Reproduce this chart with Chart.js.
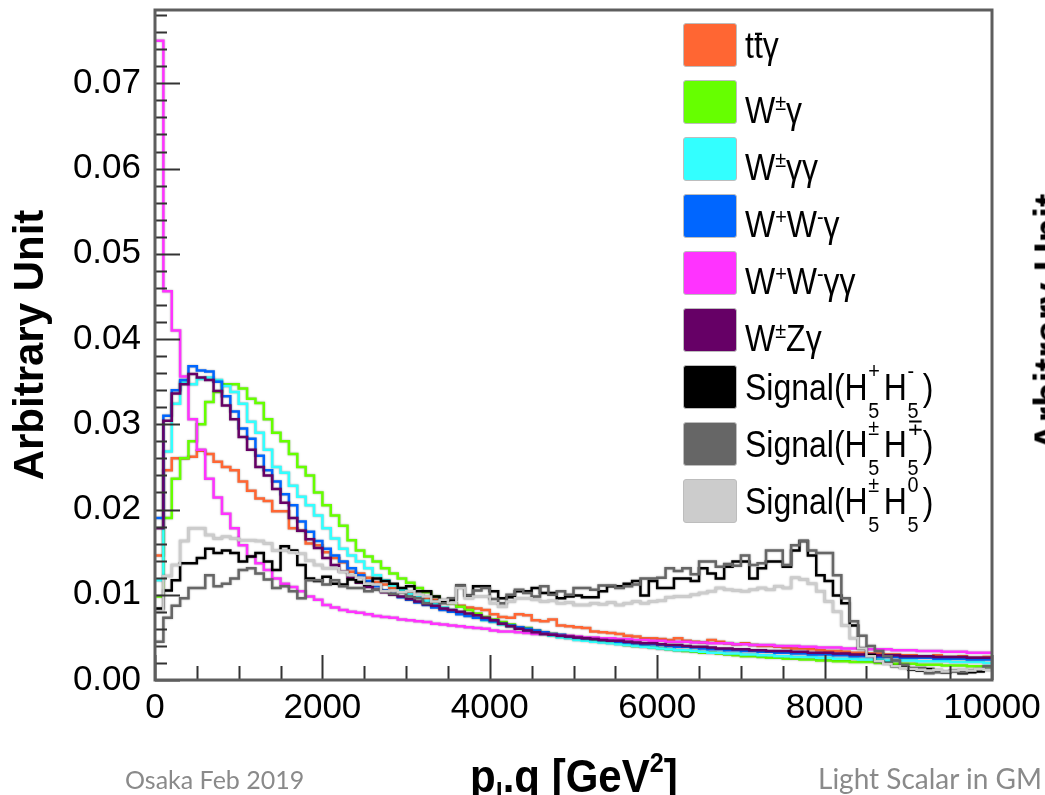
<!DOCTYPE html>
<html>
<head>
<meta charset="utf-8">
<script src="https://cdn.jsdelivr.net/npm/chart.js@4.4.1/dist/chart.umd.min.js"></script>
<style>
  html, body { margin: 0; padding: 0; background: #fff; overflow: hidden; }
  #wrap { position: relative; width: 1045px; height: 795px; overflow: hidden; }
  #plot { position: absolute; left: 0; top: 0; }
  .sans { font-family: "Liberation Sans", Arial, sans-serif; color: #000; }
  #legend { position: absolute; left: 683px; top: 23px; font-size: 32px; }
  .row { position: absolute; left: 0; width: 320px; height: 44px; white-space: nowrap; }
  .sw { position: absolute; left: 0; top: 0; width: 54px; height: 44px; box-sizing: border-box;
        border: 1px solid #bdbdbd; border-radius: 3px; }
  .lt { position: absolute; left: 62px; top: 2px; line-height: 44px;
        transform: scaleY(1.15); transform-origin: 0 33px; }
  .ov { position: relative; }
  .ov::after { content: ''; position: absolute; left: 0.04em; right: 0.02em; top: 0.22em; height: 2px; background: #000; }
  .up { font-size: 0.62em; vertical-align: 0.55em; }
  .ss { position: relative; display: inline-block; width: 0.5em; height: 1em; }
  .ss .u { position: absolute; left: 0.03em; top: -0.15em; font-size: 0.62em; line-height: 1; }
  .ss .d { position: absolute; left: 0.03em; top: 1.6em; font-size: 0.62em; line-height: 1; }
  #xtitle { position: absolute; left: 470px; top: 743px; font-size: 42px; font-weight: bold;
            line-height: 40px; white-space: nowrap; transform: scaleY(1.08); transform-origin: 0 34px; }
  #xtitle sub { font-size: 0.6em; vertical-align: -0.35em; }
  #xtitle sup { font-size: 0.6em; vertical-align: 0.75em; }
  .foot { position: absolute; top: 764px; font-family: Lato, "Open Sans", sans-serif; font-size: 25px;
          color: #8a8a8a; white-space: nowrap; }
  #side { position: absolute; left: 919px; top: 300px; width: 260px; text-align: center;
          font-size: 40px; font-weight: bold; transform: rotate(-90deg); white-space: nowrap; }
</style>
</head>
<body>
<div id="wrap">
  <canvas id="plot" width="1045" height="795"></canvas>
  <div id="legend" class="sans"></div>
  <div id="xtitle" class="sans">p<sub>l</sub>.q [GeV<sup>2</sup>]</div>
  <div class="foot" style="left:125px">Osaka Feb 2019</div>
  <div class="foot" style="left:818px;font-size:28px;top:761px">Light Scalar in GM</div>
  <div id="side" class="sans">Arbitrary Unit</div>
</div>
<script>
// ── DATA: 100 bins of width 100 GeV^2 over 0..10000 ───────────
const BIN_W = 100;
const X_MIN = 0, X_MAX = 10000;
const Y_MIN = 0, Y_MAX = 0.0786;
const X_TICKS_STEP = 2000;
const Y_TICKS_STEP = 0.01;

const SERIES_LABELS = [
  't<span class="ov">t</span>γ',
  'W<span class="up">±</span>γ',
  'W<span class="up">±</span>γγ',
  'W<span class="up">+</span>W<span class="up">-</span>γ',
  'W<span class="up">+</span>W<span class="up">-</span>γγ',
  'W<span class="up">±</span>Zγ',
  'Signal(H<span class="ss"><span class="u">+</span><span class="d">5</span></span>H<span class="ss"><span class="u">-</span><span class="d">5</span></span>)',
  'Signal(H<span class="ss"><span class="u">±</span><span class="d">5</span></span>H<span class="ss"><span class="u">∓</span><span class="d">5</span></span>)',
  'Signal(H<span class="ss"><span class="u">±</span><span class="d">5</span></span>H<span class="ss"><span class="u">0</span><span class="d">5</span></span>)'
];
const SERIES_COLORS = ['#ff6633', '#66ff00', '#33ffff', '#0066ff', '#ff33ff', '#660066', '#000000', '#666666', '#cccccc'];

const ttA = [
  0.0146, 0.0246, 0.0260, 0.0260, 0.0262, 0.0269, 0.0265, 0.0256, 0.0250, 0.0246,
  0.0233, 0.0222, 0.0213, 0.0210, 0.0198, 0.0198, 0.0178, 0.0175, 0.0160, 0.0158,
  0.0150, 0.0143, 0.0138, 0.0127, 0.0125, 0.0120, 0.0115, 0.0112, 0.0108, 0.0105,
  0.0102, 0.0099, 0.0096, 0.0094, 0.0092, 0.0090, 0.0087, 0.0085, 0.0084, 0.0082,
  0.0077, 0.0074, 0.0073, 0.0077, 0.0076, 0.0070, 0.0069, 0.0071, 0.0064, 0.0063,
  0.0062, 0.0061, 0.0057, 0.0056, 0.0055, 0.0054, 0.0052, 0.0051, 0.0049, 0.0049,
  0.0048, 0.0047, 0.0049, 0.0046, 0.0045, 0.0044, 0.0047, 0.0045, 0.0043, 0.0042,
  0.0043, 0.0041, 0.0040, 0.0040, 0.0039, 0.0038, 0.0037, 0.0037, 0.0036, 0.0035,
  0.0034, 0.0034, 0.0033, 0.0032, 0.0032, 0.0031, 0.0031, 0.0030, 0.0030, 0.0029,
  0.0029, 0.0028, 0.0028, 0.0029, 0.0027, 0.0027, 0.0028, 0.0026, 0.0026, 0.0027
];
const wA = [
  0.0098, 0.0190, 0.0236, 0.0260, 0.0280, 0.0300, 0.0326, 0.0338, 0.0347, 0.0347,
  0.0342, 0.0330, 0.0325, 0.0306, 0.0290, 0.0280, 0.0265, 0.0250, 0.0240, 0.0220,
  0.0205, 0.0193, 0.0181, 0.0164, 0.0152, 0.0145, 0.0139, 0.0131, 0.0125, 0.0119,
  0.0114, 0.0108, 0.0103, 0.0098, 0.0093, 0.0090, 0.0086, 0.0082, 0.0078, 0.0074,
  0.0071, 0.0068, 0.0065, 0.0062, 0.0061, 0.0058, 0.0056, 0.0054, 0.0052, 0.0050,
  0.0049, 0.0048, 0.0046, 0.0045, 0.0044, 0.0043, 0.0041, 0.0040, 0.0039, 0.0038,
  0.0037, 0.0036, 0.0035, 0.0034, 0.0033, 0.0032, 0.0032, 0.0031, 0.0030, 0.0029,
  0.0028, 0.0028, 0.0027, 0.0026, 0.0026, 0.0025, 0.0025, 0.0024, 0.0024, 0.0023,
  0.0023, 0.0022, 0.0022, 0.0021, 0.0021, 0.0021, 0.0020, 0.0020, 0.0019, 0.0019,
  0.0019, 0.0018, 0.0018, 0.0018, 0.0017, 0.0017, 0.0017, 0.0016, 0.0016, 0.0016
];
const wAA = [
  0.0117, 0.0268, 0.0324, 0.0350, 0.0347, 0.0353, 0.0355, 0.0352, 0.0345, 0.0338,
  0.0324, 0.0303, 0.0290, 0.0270, 0.0250, 0.0243, 0.0228, 0.0215, 0.0205, 0.0193,
  0.0178, 0.0166, 0.0154, 0.0146, 0.0139, 0.0131, 0.0123, 0.0117, 0.0111, 0.0106,
  0.0101, 0.0097, 0.0093, 0.0089, 0.0085, 0.0082, 0.0079, 0.0076, 0.0073, 0.0070,
  0.0068, 0.0065, 0.0063, 0.0060, 0.0058, 0.0056, 0.0054, 0.0052, 0.0050, 0.0049,
  0.0047, 0.0046, 0.0045, 0.0044, 0.0043, 0.0042, 0.0041, 0.0040, 0.0039, 0.0038,
  0.0037, 0.0036, 0.0035, 0.0035, 0.0034, 0.0033, 0.0032, 0.0032, 0.0031, 0.0031,
  0.0030, 0.0030, 0.0029, 0.0029, 0.0028, 0.0028, 0.0027, 0.0027, 0.0027, 0.0026,
  0.0026, 0.0025, 0.0025, 0.0025, 0.0024, 0.0024, 0.0024, 0.0023, 0.0023, 0.0023,
  0.0023, 0.0022, 0.0022, 0.0022, 0.0022, 0.0021, 0.0021, 0.0021, 0.0021, 0.0020
];
const wwA = [
  0.0190, 0.0310, 0.0340, 0.0352, 0.0368, 0.0363, 0.0362, 0.0350, 0.0333, 0.0315,
  0.0295, 0.0283, 0.0263, 0.0246, 0.0233, 0.0218, 0.0205, 0.0186, 0.0174, 0.0163,
  0.0154, 0.0146, 0.0139, 0.0131, 0.0123, 0.0116, 0.0110, 0.0105, 0.0101, 0.0097,
  0.0094, 0.0091, 0.0088, 0.0085, 0.0082, 0.0080, 0.0077, 0.0075, 0.0073, 0.0071,
  0.0069, 0.0066, 0.0064, 0.0062, 0.0060, 0.0058, 0.0056, 0.0054, 0.0053, 0.0051,
  0.0050, 0.0049, 0.0048, 0.0047, 0.0046, 0.0045, 0.0044, 0.0043, 0.0042, 0.0042,
  0.0041, 0.0040, 0.0039, 0.0039, 0.0038, 0.0037, 0.0036, 0.0036, 0.0035, 0.0035,
  0.0034, 0.0034, 0.0033, 0.0033, 0.0032, 0.0032, 0.0031, 0.0031, 0.0030, 0.0030,
  0.0030, 0.0029, 0.0029, 0.0028, 0.0028, 0.0028, 0.0027, 0.0027, 0.0027, 0.0026,
  0.0026, 0.0026, 0.0026, 0.0025, 0.0025, 0.0025, 0.0025, 0.0024, 0.0024, 0.0024
];
const wwAA = [
  0.0750, 0.0456, 0.0410, 0.0356, 0.0306, 0.0270, 0.0236, 0.0214, 0.0195, 0.0178,
  0.0158, 0.0145, 0.0137, 0.0129, 0.0119, 0.0113, 0.0109, 0.0104, 0.0098, 0.0094,
  0.0088, 0.0085, 0.0082, 0.0080, 0.0079, 0.0077, 0.0075, 0.0074, 0.0073, 0.0071,
  0.0070, 0.0069, 0.0068, 0.0066, 0.0065, 0.0064, 0.0063, 0.0062, 0.0061, 0.0060,
  0.0058, 0.0057, 0.0057, 0.0056, 0.0055, 0.0054, 0.0054, 0.0053, 0.0052, 0.0052,
  0.0051, 0.0050, 0.0050, 0.0049, 0.0049, 0.0048, 0.0048, 0.0047, 0.0047, 0.0046,
  0.0046, 0.0045, 0.0045, 0.0045, 0.0044, 0.0044, 0.0043, 0.0043, 0.0043, 0.0042,
  0.0042, 0.0041, 0.0041, 0.0041, 0.0040, 0.0040, 0.0040, 0.0039, 0.0039, 0.0038,
  0.0038, 0.0038, 0.0037, 0.0037, 0.0037, 0.0036, 0.0036, 0.0036, 0.0035, 0.0035,
  0.0035, 0.0034, 0.0034, 0.0034, 0.0033, 0.0033, 0.0033, 0.0032, 0.0032, 0.0032
];
const wzA = [
  0.0178, 0.0304, 0.0336, 0.0347, 0.0359, 0.0355, 0.0352, 0.0339, 0.0322, 0.0306,
  0.0285, 0.0270, 0.0250, 0.0240, 0.0224, 0.0208, 0.0190, 0.0175, 0.0165, 0.0155,
  0.0143, 0.0135, 0.0127, 0.0120, 0.0114, 0.0109, 0.0106, 0.0103, 0.0100, 0.0098,
  0.0095, 0.0092, 0.0089, 0.0087, 0.0084, 0.0082, 0.0080, 0.0078, 0.0076, 0.0073,
  0.0070, 0.0066, 0.0063, 0.0060, 0.0058, 0.0056, 0.0054, 0.0053, 0.0052, 0.0051,
  0.0050, 0.0049, 0.0048, 0.0047, 0.0046, 0.0046, 0.0045, 0.0044, 0.0043, 0.0043,
  0.0042, 0.0041, 0.0041, 0.0040, 0.0039, 0.0039, 0.0038, 0.0037, 0.0037, 0.0036,
  0.0036, 0.0035, 0.0035, 0.0034, 0.0034, 0.0034, 0.0033, 0.0033, 0.0032, 0.0032,
  0.0032, 0.0031, 0.0031, 0.0030, 0.0030, 0.0030, 0.0029, 0.0029, 0.0029, 0.0028,
  0.0028, 0.0028, 0.0028, 0.0027, 0.0027, 0.0027, 0.0027, 0.0026, 0.0026, 0.0026
];
const sigPM = [
  0.0084, 0.0105, 0.0117, 0.0137, 0.0137, 0.0143, 0.0154, 0.0149, 0.0152, 0.0149,
  0.0139, 0.0145, 0.0149, 0.0139, 0.0129, 0.0157, 0.0152, 0.0135, 0.0119, 0.0116,
  0.0121, 0.0113, 0.0112, 0.0118, 0.0115, 0.0112, 0.0119, 0.0116, 0.0113, 0.0108,
  0.0110, 0.0104, 0.0104, 0.0098, 0.0092, 0.0094, 0.0111, 0.0099, 0.0110, 0.0110,
  0.0104, 0.0096, 0.0097, 0.0104, 0.0104, 0.0108, 0.0102, 0.0102, 0.0096, 0.0098,
  0.0099, 0.0097, 0.0097, 0.0104, 0.0110, 0.0110, 0.0113, 0.0116, 0.0099, 0.0116,
  0.0108, 0.0108, 0.0119, 0.0119, 0.0116, 0.0131, 0.0125, 0.0119, 0.0133, 0.0139,
  0.0139, 0.0119, 0.0131, 0.0139, 0.0139, 0.0133, 0.0152, 0.0163, 0.0146, 0.0123,
  0.0116, 0.0099, 0.0090, 0.0064, 0.0037, 0.0029, 0.0022, 0.0020, 0.0016, 0.0015,
  0.0012, 0.0011, 0.0013, 0.0010, 0.0009, 0.0011, 0.0008, 0.0009, 0.0010, 0.0012
];
const sigPPMM = [
  0.0045, 0.0073, 0.0087, 0.0096, 0.0108, 0.0108, 0.0123, 0.0110, 0.0113, 0.0119,
  0.0129, 0.0131, 0.0125, 0.0118, 0.0108, 0.0110, 0.0104, 0.0096, 0.0117, 0.0117,
  0.0112, 0.0117, 0.0110, 0.0108, 0.0108, 0.0104, 0.0106, 0.0104, 0.0101, 0.0103,
  0.0098, 0.0096, 0.0090, 0.0092, 0.0090, 0.0096, 0.0111, 0.0099, 0.0105, 0.0108,
  0.0095, 0.0090, 0.0100, 0.0106, 0.0102, 0.0098, 0.0110, 0.0100, 0.0104, 0.0100,
  0.0108, 0.0108, 0.0106, 0.0111, 0.0111, 0.0108, 0.0110, 0.0112, 0.0119, 0.0119,
  0.0120, 0.0131, 0.0128, 0.0131, 0.0124, 0.0139, 0.0139, 0.0133, 0.0136, 0.0134,
  0.0146, 0.0135, 0.0137, 0.0152, 0.0152, 0.0135, 0.0158, 0.0163, 0.0152, 0.0149,
  0.0149, 0.0123, 0.0096, 0.0069, 0.0052, 0.0040, 0.0034, 0.0028, 0.0023, 0.0018,
  0.0014, 0.0014, 0.0008, 0.0009, 0.0009, 0.0010, 0.0009, 0.0011, 0.0012, 0.0016
];
const sigP0 = [
  0.0080, 0.0122, 0.0135, 0.0163, 0.0178, 0.0178, 0.0170, 0.0166, 0.0168, 0.0166,
  0.0164, 0.0164, 0.0163, 0.0160, 0.0152, 0.0152, 0.0150, 0.0148, 0.0140, 0.0135,
  0.0131, 0.0131, 0.0127, 0.0123, 0.0120, 0.0113, 0.0112, 0.0104, 0.0105, 0.0103,
  0.0104, 0.0100, 0.0098, 0.0092, 0.0094, 0.0090, 0.0108, 0.0096, 0.0098, 0.0098,
  0.0090, 0.0086, 0.0092, 0.0096, 0.0096, 0.0094, 0.0092, 0.0093, 0.0090, 0.0091,
  0.0088, 0.0088, 0.0090, 0.0089, 0.0091, 0.0088, 0.0090, 0.0092, 0.0090, 0.0092,
  0.0093, 0.0097, 0.0098, 0.0098, 0.0100, 0.0102, 0.0104, 0.0108, 0.0106, 0.0105,
  0.0104, 0.0106, 0.0108, 0.0106, 0.0110, 0.0108, 0.0120, 0.0118, 0.0113, 0.0104,
  0.0092, 0.0080, 0.0064, 0.0049, 0.0037, 0.0028, 0.0022, 0.0019, 0.0016, 0.0014,
  0.0013, 0.0012, 0.0011, 0.0012, 0.0010, 0.0011, 0.0012, 0.0011, 0.0013, 0.0012
];
const SERIES_VALUES = [ttA, wA, wAA, wwA, wwAA, wzA, sigPM, sigPPMM, sigP0];

// ── HELPERS ───────────────────────────────────────────────────
const FONT = '"Liberation Sans", Arial, sans-serif';

// bin contents -> step points at the left bin edges (+ closing edge)
function toSteps(vals) {
  const pts = vals.map((v, i) => ({ x: X_MIN + i * BIN_W, y: v }));
  pts.push({ x: X_MIN + vals.length * BIN_W, y: vals[vals.length - 1] });
  return pts;
}

// soft grey halo round each histogram line, like the scaled ROOT picture
const haloPlugin = {
  id: 'halo',
  beforeDatasetDraw(chart) {
    const ctx = chart.ctx;
    ctx.save();
    ctx.shadowColor = 'rgba(0,0,0,0.35)';
    ctx.shadowBlur = 2;
  },
  afterDatasetDraw(chart) { chart.ctx.restore(); }
};

// ROOT style frame with inward ticks
const frameTicksPlugin = {
  id: 'frameTicks',
  afterDatasetsDraw(chart) {
    const { ctx, chartArea: a, scales: { x, y } } = chart;
    ctx.save();
    ctx.strokeStyle = '#333';
    ctx.lineWidth = 2;
    ctx.beginPath();
    for (let i = 0; i * 0.002 <= Y_MAX + 1e-9; i++) {
      const py = Math.round(y.getPixelForValue(i * 0.002)) + 0.5;
      const len = i % 5 === 0 ? 25 : 12;
      ctx.moveTo(a.left, py);
      ctx.lineTo(a.left + len, py);
    }
    for (let i = 0; i * 500 <= X_MAX; i++) {
      const px = Math.round(x.getPixelForValue(i * 500)) + 0.5;
      const len = i % 4 === 0 ? 25 : 14;
      ctx.moveTo(px, a.bottom);
      ctx.lineTo(px, a.bottom - len);
    }
    ctx.stroke();
    ctx.strokeStyle = '#5e5e5e';
    ctx.lineWidth = 3;
    ctx.strokeRect(a.left, a.top, a.right - a.left, a.bottom - a.top);
    ctx.restore();
  }
};

// ── CHART ─────────────────────────────────────────────────────
const N = SERIES_VALUES.length;
const chart = new Chart(document.getElementById('plot'), {
  type: 'line',
  data: {
    datasets: SERIES_VALUES.map((vals, i) => ({
      data: toSteps(vals),
      borderColor: SERIES_COLORS[i],
      borderWidth: 2.5,
      stepped: 'before',
      pointRadius: 0,
      fill: false,
      order: N - i
    }))
  },
  options: {
    responsive: false,
    animation: false,
    events: [],
    layout: { padding: { top: 10, right: 53, left: 0, bottom: 0 } },
    plugins: { legend: { display: false }, tooltip: { enabled: false } },
    scales: {
      x: {
        type: 'linear', min: X_MIN, max: X_MAX,
        grid: { display: false, drawTicks: false },
        border: { display: false },
        ticks: {
          stepSize: X_TICKS_STEP, padding: 7, color: '#000', maxRotation: 0, autoSkip: false,
          font: { family: FONT, size: 35 },
          callback: v => String(v)
        },
        afterFit(s) { s.height = 115; s.paddingLeft = 0; s.paddingRight = 0; }
      },
      y: {
        min: Y_MIN, max: Y_MAX,
        grid: { display: false, drawTicks: false },
        border: { display: false },
        ticks: {
          stepSize: Y_TICKS_STEP, includeBounds: false, padding: 14, color: '#000',
          font: { family: FONT, size: 35 },
          callback: v => v.toFixed(2)
        },
        title: {
          display: true, text: 'Arbitrary Unit', color: '#000',
          font: { family: FONT, size: 42, weight: 'bold' },
          padding: { top: 6, bottom: 0 }
        },
        afterFit(s) { s.width = 155; s.paddingTop = 0; s.paddingBottom = 0; }
      }
    }
  },
  plugins: [haloPlugin, frameTicksPlugin]
});

// ── LEGEND (HTML, for sub/superscripts) ───────────────────────
const legendEl = document.getElementById('legend');
SERIES_LABELS.forEach((label, i) => {
  const row = document.createElement('div');
  row.className = 'row';
  row.style.top = (i * 57) + 'px';
  row.innerHTML = `<span class="sw" style="background:${SERIES_COLORS[i]}"></span><span class="lt">${label}</span>`;
  legendEl.appendChild(row);
});
</script>
</body>
</html>
